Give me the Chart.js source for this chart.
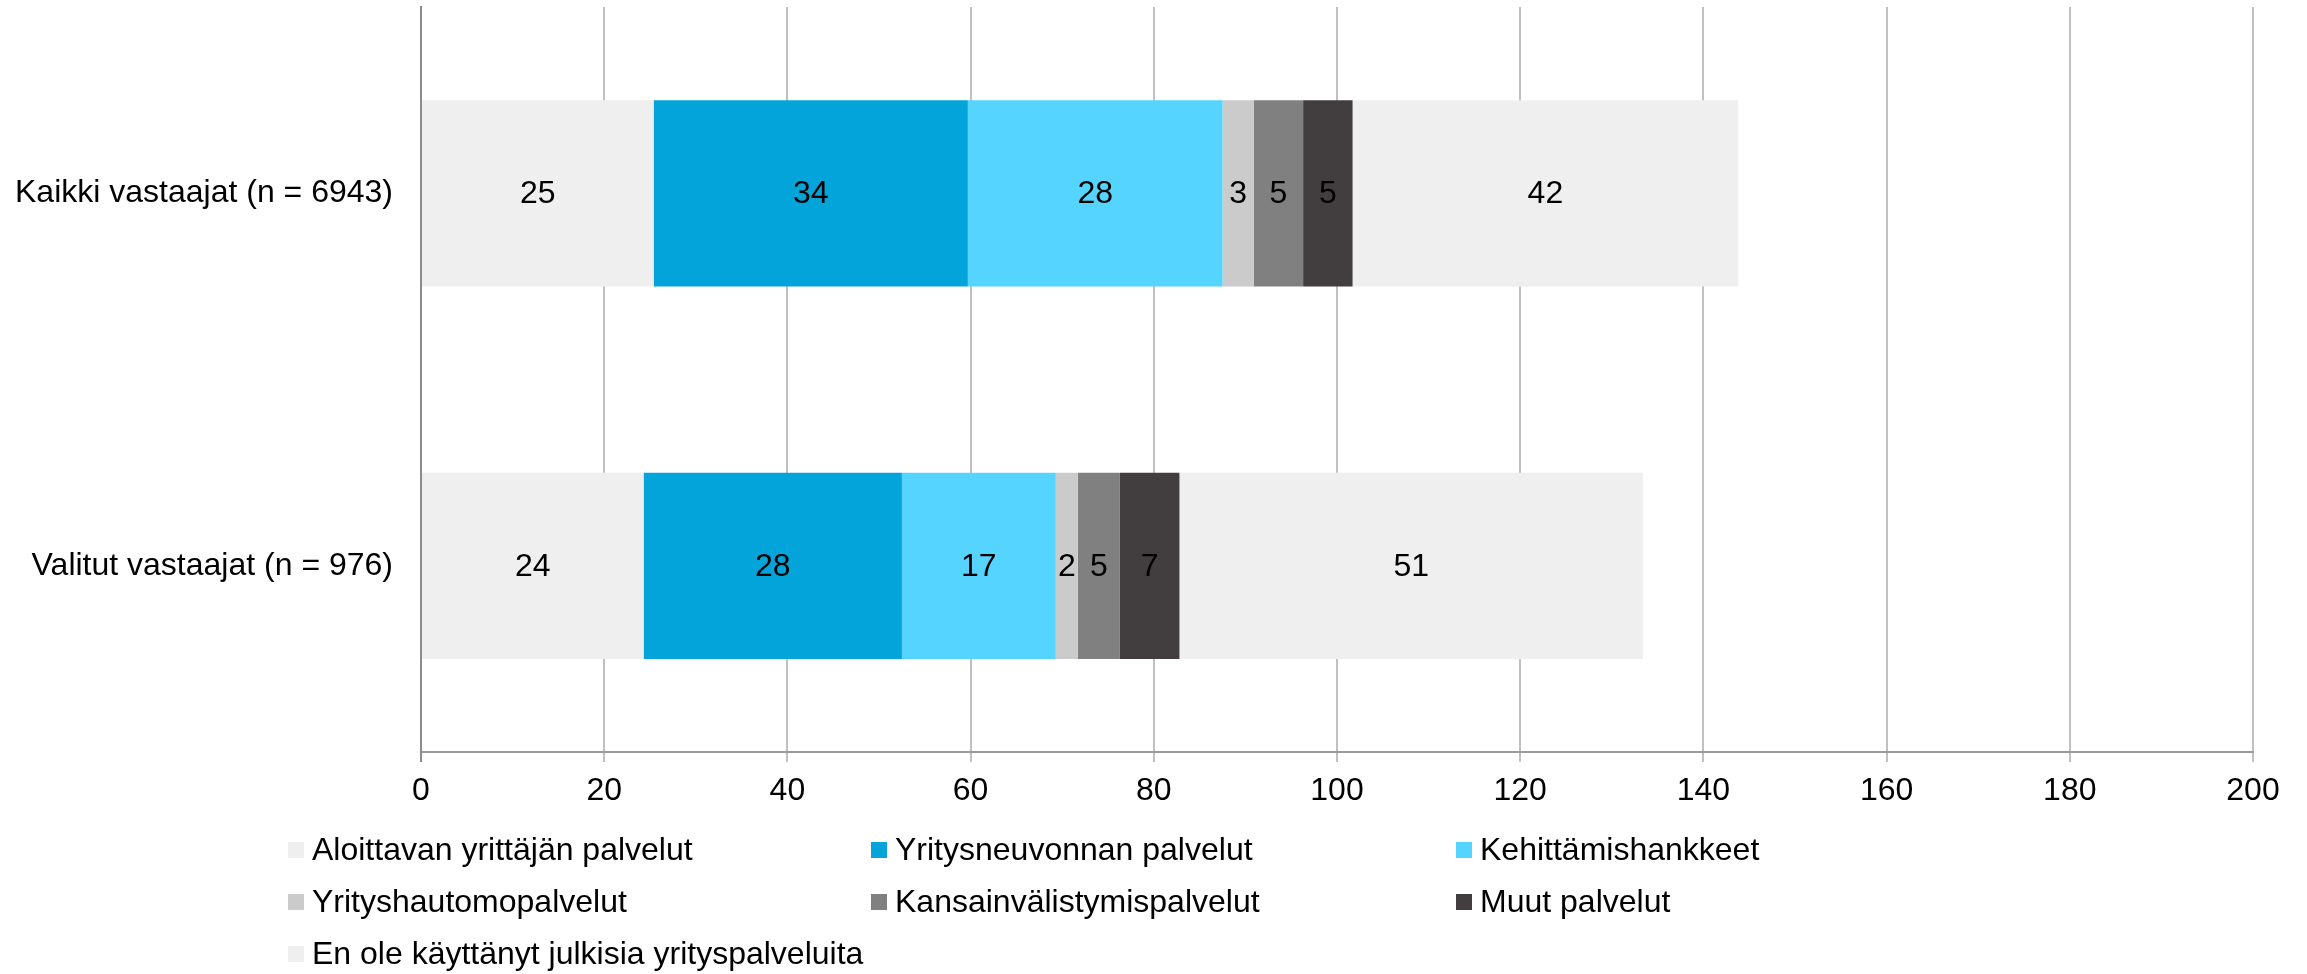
<!DOCTYPE html>
<html><head><meta charset="utf-8">
<script src="https://cdn.jsdelivr.net/npm/chart.js@4/dist/chart.umd.min.js"></script>
<style>html,body{margin:0;padding:0;background:#fff;} #wrap{width:2307px;height:974px;}</style>
</head><body><div id="wrap"><canvas id="c" width="2307" height="974"></canvas></div>
<script>
const categories = ['Kaikki vastaajat (n = 6943)', 'Valitut vastaajat (n = 976)'];
const seriesNames = ['Aloittavan yrittäjän palvelut', 'Yritysneuvonnan palvelut', 'Kehittämishankkeet',
  'Yrityshautomopalvelut', 'Kansainvälistymispalvelut', 'Muut palvelut', 'En ole käyttänyt julkisia yrityspalveluita'];
const aloittava = [25.4, 24.3];
const neuvonta = [34.3, 28.2];
const kehittamis = [27.8, 16.8];
const hautomo = [3.4, 2.4];
const kansainv = [5.4, 4.6];
const muut = [5.4, 6.5];
const eiKayttanyt = [42.1, 50.6];
const xTicks = [0, 20, 40, 60, 80, 100, 120, 140, 160, 180, 200];

const colors = ['#efefef', '#03a4da', '#55d4ff', '#cbcbcb', '#808080', '#423d3e', '#efefef'];
const seriesData = [aloittava, neuvonta, kehittamis, hautomo, kansainv, muut, eiKayttanyt];
const FONT = 'Liberation Sans, Arial, sans-serif';
const FS = 32;

const datasets = seriesNames.map((n, i) => ({
  label: n, data: seriesData[i], backgroundColor: colors[i],
  borderWidth: 0, categoryPercentage: 0.5, barPercentage: 1.0
}));

const valueLabels = {
  id: 'valueLabels',
  afterDatasetsDraw(chart) {
    const ctx = chart.ctx;
    ctx.save();
    ctx.font = FS + 'px ' + FONT;
    ctx.fillStyle = '#000';
    ctx.textAlign = 'center';
    ctx.textBaseline = 'middle';
    chart.data.datasets.forEach((ds, di) => {
      const meta = chart.getDatasetMeta(di);
      meta.data.forEach((el, j) => {
        const v = ds.data[j];
        const cx = (el.x + el.base) / 2;
        ctx.fillText(String(Math.round(v)), cx, el.y + 1);
      });
    });
    ctx.restore();
  }
};

const gridLegend = {
  id: 'gridLegend',
  afterDraw(chart) {
    const ctx = chart.ctx;
    const ca = chart.chartArea;
    const colX = [ca.left - 133, ca.left + 450, ca.left + 1035];
    ctx.save();
    ctx.font = FS + 'px ' + FONT;
    ctx.textBaseline = 'middle';
    ctx.textAlign = 'left';
    chart.data.datasets.forEach((ds, i) => {
      const col = i % 3, row = Math.floor(i / 3);
      const x = colX[col];
      const y = ca.bottom + 98 + row * 52;
      ctx.fillStyle = ds.backgroundColor;
      ctx.fillRect(x, y - 8, 16, 16);
      ctx.fillStyle = '#000';
      ctx.fillText(ds.label, x + 24, y + 1);
    });
    ctx.restore();
  }
};

new Chart(document.getElementById('c'), {
  type: 'bar',
  data: { labels: categories, datasets },
  plugins: [valueLabels, gridLegend],
  options: {
    indexAxis: 'y',
    responsive: false,
    animation: false,
    devicePixelRatio: 1,
    layout: { padding: { top: 7, right: 54, left: 0, bottom: 0 } },
    plugins: { legend: { display: false }, tooltip: { enabled: false } },
    scales: {
      x: {
        stacked: true, min: 0, max: 200,
        afterBuildTicks: (s) => { s.ticks = xTicks.map(v => ({ value: v })); },
        afterFit: (s) => { s.height = 222; s.paddingLeft = 0; s.paddingRight = 0; },
        grid: { color: (c) => c.index === 0 ? '#8c8c8c' : '#c0c0c0', lineWidth: 2, tickLength: 10, drawTicks: true },
        border: { display: true, color: '#9a9a9a', width: 2 },
        ticks: { color: '#000', font: { family: FONT, size: FS }, padding: 10, maxRotation: 0 }
      },
      y: {
        stacked: true,
        afterFit: (s) => { s.width = 421; s.paddingTop = 0; s.paddingBottom = 0; },
        grid: { display: false, drawTicks: false },
        border: { display: true, color: '#8c8c8c', width: 2 },
        ticks: { color: '#000', font: { family: FONT, size: FS }, padding: 28 }
      }
    }
  }
});
</script></body></html>
